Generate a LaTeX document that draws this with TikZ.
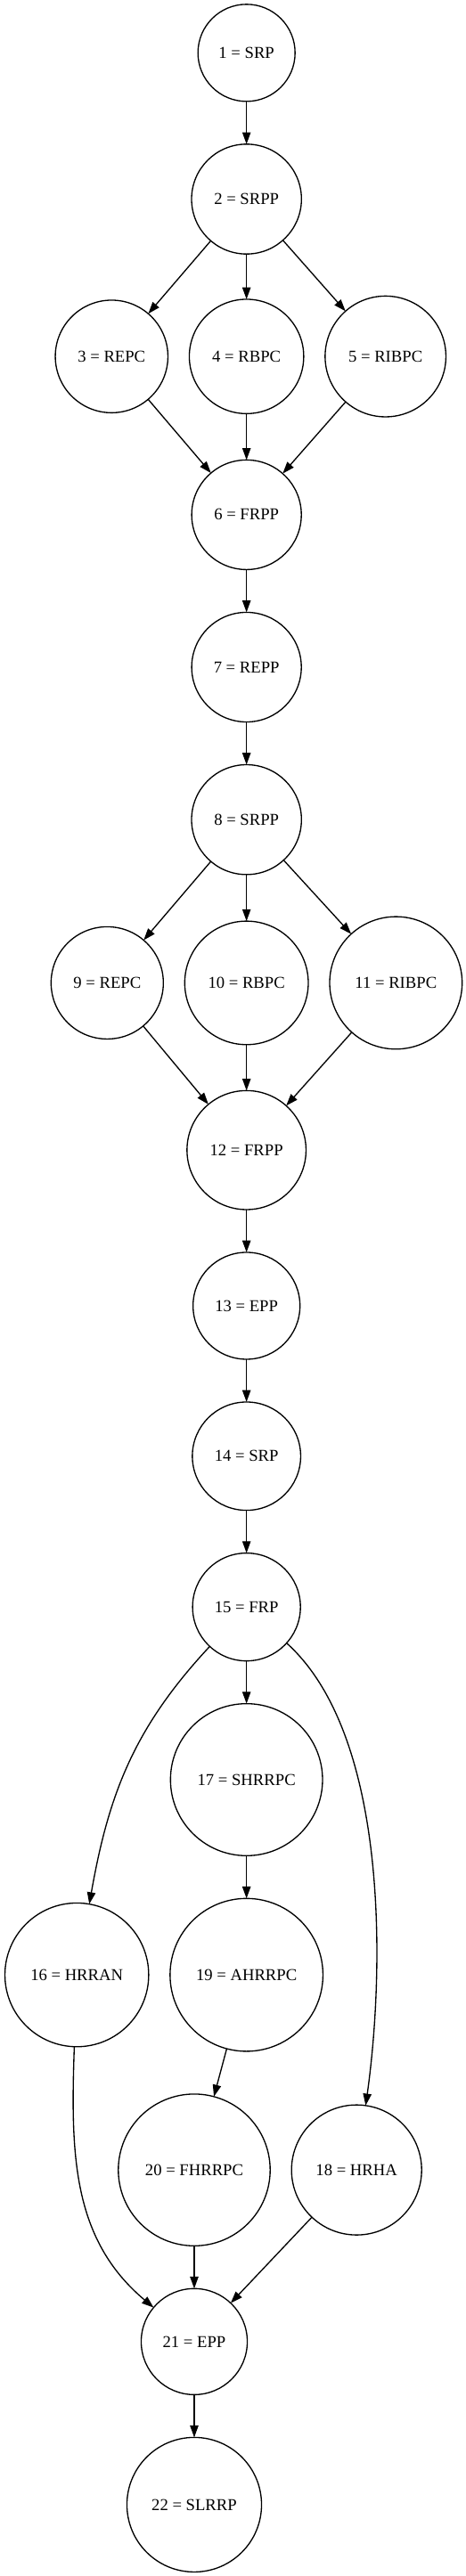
\documentclass[tikz,border=0pt]{standalone}
\usepackage{fontspec}
\setmainfont{Liberation Serif}
\usetikzlibrary{arrows.meta,positioning}
\begin{document}
\begin{tikzpicture}[font=\fontsize{14pt}{17pt}\selectfont, node distance=36pt and 18pt,
 phase/.style={draw,circle,line width=1pt,inner sep=0pt,outer sep=0pt,minimum size=#1},
 >={Triangle[length=10pt,width=7pt]}]
\useasboundingbox (-207.5pt,44.5pt) rectangle (184pt,-2124.5pt);
\node[phase=81.75pt] (n1) {1 = SRP};
\node[phase=92.5pt,below=of n1] (n2) {2 = SRPP};
\node[phase=96.3pt,below=38.1pt of n2] (n4) {4 = RBPC};
\node[phase=94.8pt,left=of n4] (n3) {3 = REPC};
\node[phase=101.7pt,right=of n4] (n5) {5 = RIBPC};
\node[phase=92.3pt,below=39pt of n4] (n6) {6 = FRPP};
\node[phase=92.3pt,below=of n6] (n7) {7 = REPP};
\node[phase=92.5pt,below=of n7] (n8) {8 = SRPP};
\node[phase=104pt,below=39.2pt of n8] (n10) {10 = RBPC};
\node[phase=94.5pt,left=of n10] (n9) {9 = REPC};
\node[phase=111.5pt,right=of n10] (n11) {11 = RIBPC};
\node[phase=100.2pt,below=38.7pt of n10] (n12) {12 = FRPP};
\node[phase=90pt,below=of n12] (n13) {13 = EPP};
\node[phase=91.2pt,below=of n13] (n14) {14 = SRP};
\node[phase=90.8pt,below=of n14] (n15) {15 = FRP};
\node[phase=128pt,below=of n15] (n17) {17 = SHRRPC};
\node[phase=128.7pt,below=of n17] (n19) {19 = AHRRPC};
\node[phase=121pt,left=of n19] (n16) {16 = HRRAN};
\node[phase=127.8pt,below=of n19,xshift=-44pt] (n20) {20 = FHRRPC};
\node[phase=109.5pt,right=of n20] (n18) {18 = HRHA};
\node[phase=89.3pt,below=of n20] (n21) {21 = EPP};
\node[phase=113.3pt,below=of n21] (n22) {22 = SLRRP};
\foreach \a/\b in {n1/n2,n2/n3,n2/n4,n2/n5,n3/n6,n4/n6,n5/n6,n6/n7,n7/n8,n8/n9,n8/n10,n8/n11,n9/n12,n10/n12,n11/n12,n12/n13,n13/n14,n14/n15,n15/n17,n17/n19,n19/n20,n20/n21,n18/n21,n21/n22}
 \draw[->,line width=1pt] (\a)--(\b);
\draw[->,line width=1pt] (n15) to[out=-133,in=80] (n16);
\draw[->,line width=1pt] (n15) to[out=-42,in=82,looseness=0.75] (n18);
\draw[->,line width=1pt] (n16) to[out=-92,in=140] (n21);
\end{tikzpicture}
\end{document}
